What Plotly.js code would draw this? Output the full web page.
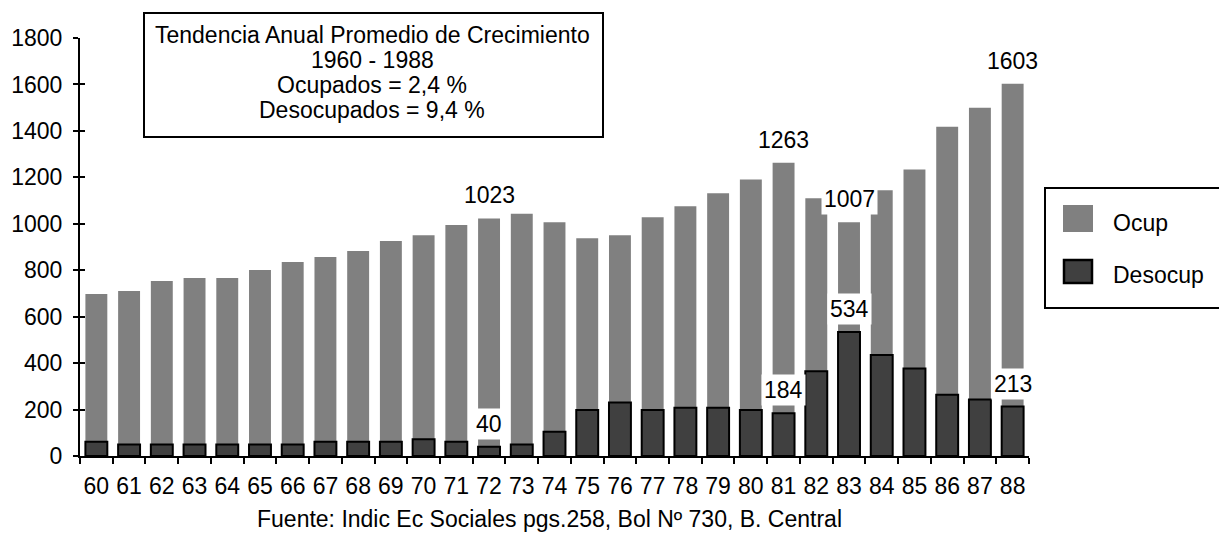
<!DOCTYPE html>
<html>
<head>
<meta charset="utf-8">
<script src="https://cdn.plot.ly/plotly-3.0.1.min.js"></script>
<style>
  html, body { margin: 0; padding: 0; background: #fff; }
  #chart { width: 1219px; height: 533px; }
</style>
</head>
<body>
<div id="chart"></div>
<script>
// ---- data ----
const years = ['60','61','62','63','64','65','66','67','68','69','70','71','72','73','74',
               '75','76','77','78','79','80','81','82','83','84','85','86','87','88'];
const ocup = [698, 711, 754, 767, 767, 801, 835, 857, 883, 926, 951, 995, 1023, 1043, 1007,
              938, 951, 1028, 1076, 1131, 1191, 1263, 1110, 1007, 1144, 1234, 1418, 1500, 1603];
const desocup = [61, 50, 50, 50, 50, 50, 50, 61, 61, 61, 72, 61, 40, 50, 104,
                 198, 230, 198, 208, 208, 198, 184, 365, 534, 435, 377, 264, 243, 213];
const labelledYears = ['72', '81', '83', '88'];
const boxLines = ['Tendencia Anual Promedio de Crecimiento', '1960 - 1988',
                  'Ocupados = 2,4 %', 'Desocupados = 9,4 %'];
const legendNames = ['Ocup', 'Desocup'];
const source = 'Fuente: Indic Ec Sociales pgs.258, Bol Nº 730, B. Central';

// ---- layout helpers (pixel -> paper) ----
const L = 80, T = 38, W = 949, H = 418;
const PX = x => (x - L) / W;
const PY = y => (T + H - y) / H;
const FONT = 'Liberation Sans, Arial, sans-serif';
const FS = 23;
const OCUP_C = '#808080', DES_C = '#404040';

const traces = [
  { type: 'bar', name: legendNames[0], x: years, y: ocup, width: 0.67,
    marker: { color: OCUP_C, line: { width: 0 } }, showlegend: false },
  { type: 'bar', name: legendNames[1], x: years, y: desocup, width: 0.67,
    marker: { color: DES_C, line: { color: '#000', width: 2 } }, showlegend: false }
];

const annotations = [];
labelledYears.forEach(yr => {
  const i = years.indexOf(yr);   // category index on the x axis
  [ocup[i], desocup[i]].forEach(v => {
    annotations.push({
      x: i, y: v, xref: 'x', yref: 'y', text: String(v), showarrow: false,
      xanchor: 'center', yanchor: 'bottom', yshift: 7, bgcolor: '#fff', borderpad: 2,
      font: { family: FONT, size: FS, color: '#000' }
    });
  });
});
// text box lines
const lineY = [35, 60, 85, 110];
boxLines.forEach((t, k) => {
  annotations.push({
    x: PX(372), y: PY(lineY[k]), xref: 'paper', yref: 'paper', text: t,
    showarrow: false, xanchor: 'center', yanchor: 'middle',
    font: { family: FONT, size: FS, color: '#000' }
  });
});
// legend texts
[[223, legendNames[0]], [275, legendNames[1]]].forEach(([yy, t]) => {
  annotations.push({
    x: PX(1111), y: PY(yy), xref: 'paper', yref: 'paper', text: t,
    showarrow: false, xanchor: 'left', yanchor: 'middle',
    font: { family: FONT, size: FS, color: '#000' }
  });
});
// source
annotations.push({
  x: PX(549), y: PY(519), xref: 'paper', yref: 'paper', text: source,
  showarrow: false, xanchor: 'center', yanchor: 'middle',
  font: { family: FONT, size: FS, color: '#000' }
});

const shapes = [
  // text box
  { type: 'rect', xref: 'paper', yref: 'paper', x0: PX(144), x1: PX(603), y0: PY(13), y1: PY(137),
    line: { color: '#000', width: 2 }, fillcolor: 'rgba(0,0,0,0)', layer: 'above' },
  // legend box
  { type: 'rect', xref: 'paper', yref: 'paper', x0: PX(1045), x1: PX(1224), y0: PY(188), y1: PY(308),
    line: { color: '#000', width: 2 }, fillcolor: '#fff', layer: 'above' },
  // legend swatches
  { type: 'rect', xref: 'paper', yref: 'paper', x0: PX(1063), x1: PX(1093), y0: PY(205), y1: PY(232),
    line: { width: 0 }, fillcolor: OCUP_C, layer: 'above' },
  { type: 'rect', xref: 'paper', yref: 'paper', x0: PX(1064), x1: PX(1092), y0: PY(260), y1: PY(283),
    line: { color: '#000', width: 2.5 }, fillcolor: DES_C, layer: 'above' }
];

const layout = {
  width: 1219, height: 533,
  margin: { l: L, r: 1219 - L - W, t: T, b: 533 - T - H, pad: 0 },
  paper_bgcolor: '#fff', plot_bgcolor: '#fff',
  barmode: 'overlay', bargap: 0.33,
  showlegend: false,
  hovermode: false,
  font: { family: FONT, size: FS, color: '#000' },
  xaxis: {
    type: 'category', showgrid: false, zeroline: false,
    showline: true, linecolor: '#000', linewidth: 2,
    ticks: 'outside', tickson: 'boundaries', ticklen: 6, tickwidth: 2, tickcolor: '#000',
    tickangle: 0,
    tickfont: { family: FONT, size: FS, color: '#000' }, ticklabelstandoff: 8,
    range: [-0.5, years.length - 0.5], fixedrange: true
  },
  yaxis: {
    range: [0, 1800], dtick: 200, showgrid: false, zeroline: false,
    showline: true, linecolor: '#000', linewidth: 2,
    ticks: 'outside', ticklen: 5, tickwidth: 2, tickcolor: '#000',
    tickfont: { family: FONT, size: FS, color: '#000' }, ticklabelstandoff: 6,
    fixedrange: true
  },
  yaxis2: {
    overlaying: 'y', side: 'left', range: [0, 1800], dtick: 200,
    showgrid: false, zeroline: false, showline: false, showticklabels: false,
    ticks: 'inside', ticklen: 5, tickwidth: 2, tickcolor: '#000', fixedrange: true
  },
  annotations: annotations,
  shapes: shapes
};

// invisible helper trace so the inner tick axis is drawn
traces.push({ type: 'scatter', x: [years[0]], y: [0], yaxis: 'y2', mode: 'markers',
              marker: { opacity: 0 }, showlegend: false, hoverinfo: 'skip' });

Plotly.newPlot('chart', traces, layout, { displayModeBar: false, staticPlot: true });
</script>
</body>
</html>
